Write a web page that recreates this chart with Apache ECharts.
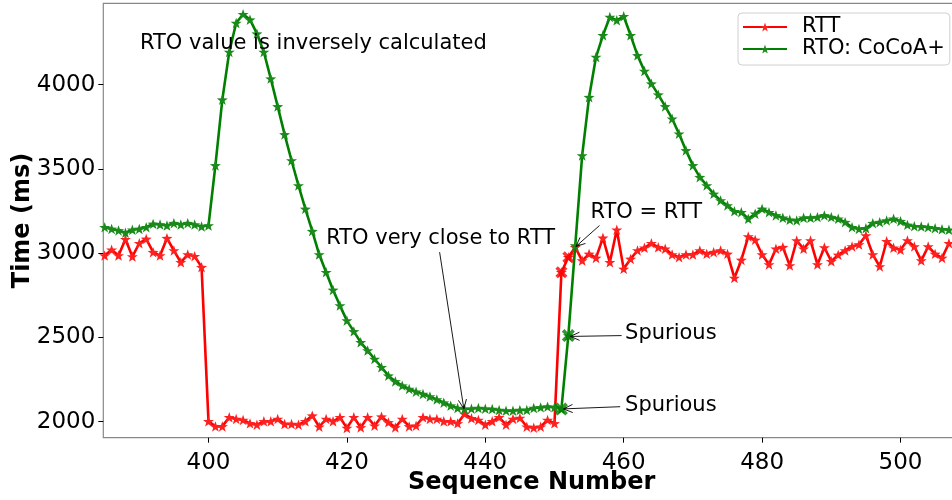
<!DOCTYPE html>
<html>
<head>
<meta charset="utf-8">
<script src="https://cdn.jsdelivr.net/npm/echarts@6/dist/echarts.min.js"></script>
<style>
html,body{margin:0;padding:0;background:#fff;}
#chart{width:952px;height:500px;}
</style>
</head>
<body>
<div id="chart"></div>
<script>
// ---- data ----
const seq = [385,386,387,388,389,390,391,392,393,394,395,396,397,398,399,400,401,402,403,404,405,406,407,408,409,410,411,412,413,414,415,416,417,418,419,420,421,422,423,424,425,426,427,428,429,430,431,432,433,434,435,436,437,438,439,440,441,442,443,444,445,446,447,448,449,450,451,452,453,454,455,456,457,458,459,460,461,462,463,464,465,466,467,468,469,470,471,472,473,474,475,476,477,478,479,480,481,482,483,484,485,486,487,488,489,490,491,492,493,494,495,496,497,498,499,500,501,502,503,504,505,506,507];
const rtt = [2986,3020,2986,3083,2980,3059,3085,3006,2986,3089,3016,2946,2992,2982,2917,
  2002,1972,1972,2026,2016,2010,1990,1982,2002,2002,2016,1986,1986,1982,2002,
  2036,1970,2016,2002,2026,1962,2026,1966,2026,1976,2030,1996,1966,2016,1972,
  1976,2026,2016,2016,2002,2002,1990,2046,2020,2010,1982,2002,2026,1982,2016,
  2022,1970,1964,1970,2010,1990,2887,2976,3035,2956,2996,2972,3091,2946,3139,
  2907,2966,3016,3032,3059,3035,3026,2992,2976,2992,2992,3016,2996,3006,3016,
  2996,2853,2960,3099,3079,2992,2933,3026,3036,2927,3075,3026,3075,2933,3034,
  2952,2990,3016,3040,3051,3105,2992,2921,3071,3032,3020,3075,3040,2956,3040,
  2996,2972,3059];
const rto = [3154,3144,3135,3121,3139,3144,3154,3174,3170,3164,3178,3170,3178,3170,3158,
  3164,3521,3911,4194,4366,4418,4386,4303,4194,4036,3871,3705,3550,3402,3263,
  3131,2992,2887,2782,2689,2600,2536,2471,2422,2372,2323,2273,2239,2214,2194,
  2178,2164,2149,2132,2113,2095,2081,2075,2077,2081,2077,2075,2069,2065,2065,
  2069,2069,2081,2085,2089,2085,2075,2511,3045,3580,3926,4164,4293,4402,4382,
  4406,4293,4174,4081,4006,3941,3871,3798,3709,3610,3521,3451,3402,3352,3313,
  3283,3249,3243,3204,3234,3263,3243,3224,3210,3198,3194,3210,3210,3214,3224,
  3214,3204,3184,3154,3144,3148,3178,3184,3194,3204,3190,3168,3160,3158,3154,
  3148,3142,3139];
const spuriousSeq = [451, 452];
const xTicks = [400, 420, 440, 460, 480, 500];
const yTicks = [2000, 2500, 3000, 3500, 4000];
const seriesNames = ['RTT', 'RTO: CoCoA+'];

// annotations (data coordinates)
const notes = [
  {text: 'RTO value is inversely calculated', at: [390.1, 4245]},
  {text: 'RTO very close to RTT', at: [417.0, 3087], from: [433.4, 3006], to: [436.9, 2077]},
  {text: 'RTO = RTT', at: [455.2, 3241], from: [456.5, 3164], to: [453.1, 3040]},
  {text: 'Spurious', at: [460.2, 2523], from: [459.7, 2511], to: [452.3, 2506]},
  {text: 'Spurious', at: [460.2, 2095], from: [459.5, 2089], to: [451.3, 2076]}
];

// ---- chart ----
const STAR = 'path://M0,-10 L2.35,-3.24 L9.51,-3.09 L3.8,1.24 L5.88,8.09 L0,4 L-5.88,8.09 L-3.8,1.24 L-9.51,-3.09 L-2.35,-3.24 Z';
const XMARK = 'path://M-10,-6 L-6,-10 L0,-4 L6,-10 L10,-6 L4,0 L10,6 L6,10 L0,4 L-6,10 L-10,6 L-4,0 Z';
const FONT = 'DejaVu Sans';

const pair = (arr) => seq.map((s, i) => [s, arr[i]]);
const spur = (arr) => spuriousSeq.map(s => [s, arr[seq.indexOf(s)]]);

const chart = echarts.init(document.getElementById('chart'), null, {renderer: 'canvas'});
chart.setOption({
  animation: false,
  backgroundColor: '#fff',
  textStyle: {fontFamily: FONT},
  grid: {left: 103.3, top: 3.3, bottom: 62.3, right: -8, show: true, borderColor: '#888', borderWidth: 1.2,
         containLabel: false, outerBoundsMode: 'none'},
  legend: {
    orient: 'vertical', left: 738, top: 13,
    itemWidth: 44, itemHeight: 11, itemGap: 0,
    padding: [3, 5, 5, 4],
    backgroundColor: 'rgba(255,255,255,0.8)', borderColor: '#d0d0d0', borderWidth: 1, borderRadius: 4,
    textStyle: {fontSize: 21, color: '#000', fontFamily: FONT, lineHeight: 22, padding: [0, 0, 0, 10]},
    data: seriesNames
  },
  xAxis: {
    type: 'value', min: 384.8, max: 508.6,
    name: 'Sequence Number', nameLocation: 'middle', nameGap: 33, nameMoveOverlap: false,
    nameTextStyle: {fontSize: 24, fontWeight: 'bold', color: '#000', fontFamily: FONT},
    axisLine: {show: false},
    axisTick: {show: true, length: 5, lineStyle: {color: '#000'}, customValues: xTicks},
    axisLabel: {fontSize: 23, color: '#000', margin: 14, customValues: xTicks, fontFamily: FONT, formatter: v => String(v)},
    splitLine: {show: false}
  },
  yAxis: {
    type: 'value', min: 1905, max: 4483,
    name: 'Time (ms)', nameLocation: 'middle', nameGap: 69, nameRotate: 90, nameMoveOverlap: false,
    nameTextStyle: {fontSize: 24, fontWeight: 'bold', color: '#000', fontFamily: FONT},
    axisLine: {show: false},
    axisTick: {show: true, length: 5, lineStyle: {color: '#000'}, customValues: yTicks},
    axisLabel: {fontSize: 23, color: '#000', margin: 8, customValues: yTicks, fontFamily: FONT, formatter: v => String(v)},
    splitLine: {show: false}
  },
  series: [
    {name: seriesNames[0], type: 'line', data: pair(rtt), color: '#ff0000',
     lineStyle: {width: 2.6, color: '#ff0000'}, symbol: STAR, symbolSize: 11, symbolKeepAspect: true,
     itemStyle: {color: '#ff2020'}, showAllSymbol: true, z: 2},
    {name: seriesNames[1], type: 'line', data: pair(rto), color: '#008000',
     lineStyle: {width: 2.6, color: '#008000'}, symbol: STAR, symbolSize: 11, symbolKeepAspect: true,
     itemStyle: {color: '#1a8a1a'}, showAllSymbol: true, z: 3},
    {type: 'scatter', data: spur(rtt), symbol: XMARK, symbolSize: 12, itemStyle: {color: '#ff0000'}, z: 4, silent: true},
    {type: 'scatter', data: spur(rto), symbol: XMARK, symbolSize: 13, itemStyle: {color: '#008000'}, z: 5, silent: true}
  ]
});

// annotations
const g = [];
notes.forEach(n => {
  const p = chart.convertToPixel({gridIndex: 0}, n.at);
  g.push({type: 'text', x: p[0], y: p[1], z: 10,
    style: {text: n.text, font: '21px "DejaVu Sans"', fill: '#000', textAlign: 'left', textVerticalAlign: 'middle'}});
  if (n.from) {
    const a = chart.convertToPixel({gridIndex: 0}, n.from);
    const b = chart.convertToPixel({gridIndex: 0}, n.to);
    const ang = Math.atan2(b[1] - a[1], b[0] - a[0]);
    const L = 10, W = 0.42;
    const h1 = [b[0] - L * Math.cos(ang - W), b[1] - L * Math.sin(ang - W)];
    const h2 = [b[0] - L * Math.cos(ang + W), b[1] - L * Math.sin(ang + W)];
    g.push({type: 'line', z: 10, shape: {x1: a[0], y1: a[1], x2: b[0], y2: b[1]}, style: {stroke: '#000', lineWidth: 0.9}});
    g.push({type: 'polyline', z: 10, shape: {points: [h1, b, h2]}, style: {stroke: '#000', lineWidth: 0.9, fill: null}});
  }
});
chart.setOption({graphic: g});
</script>
</body>
</html>
